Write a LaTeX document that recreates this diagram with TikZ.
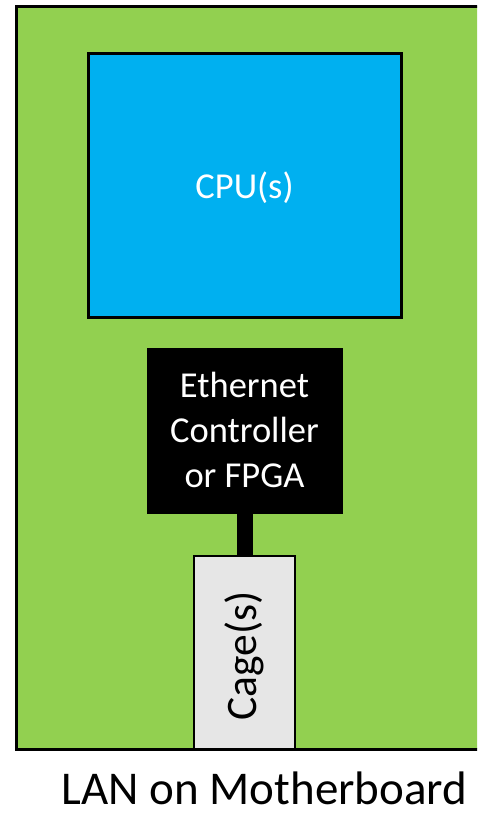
\documentclass[tikz,border=0pt]{standalone}
\usepackage{fontspec}
\setmainfont{Carlito}
\definecolor{board}{HTML}{92D050}
\definecolor{cpublue}{HTML}{00B0F0}
\definecolor{cagegray}{HTML}{E6E6E6}
\begin{document}
\begin{tikzpicture}[x=1pt,y=-1pt,
  box/.style={draw=black,line width=3pt,inner sep=0pt,align=center,text=white},
  txt/.style={font=\fontsize{36.5}{45}\selectfont}]
\useasboundingbox (0,0) rectangle (477,814);
\begin{scope}
\clip (0,0) rectangle (477,814);
\fill[board] (16,6) rectangle (500,749);
\draw[line width=3pt] (500,6) -- (16,6) -- (16,749) -- (500,749);
\end{scope}
\node[box,fill=cpublue,minimum width=313pt,minimum height=264pt] (cpu) at (244.5,185) {};
\node[txt,text=white] (cputxt) at (244.5,188) {CPU(s)};
\node[box,fill=black,minimum width=193pt,minimum height=163pt] (eth) at (244.5,430.5) {};
\node[txt,text=white,align=center] (ethtxt) at (244.5,430) {Ethernet\\Controller\\or FPGA};
\node[box,fill=cagegray,line width=2.5pt,minimum width=101pt,minimum height=193pt] (cage) at (244.5,652.5) {};
\node[font=\fontsize{43.5}{50}\selectfont,rotate=90] (cagetxt) at (244.5,656) {Cage(s)};
\draw[line width=16pt] (eth.south) -- (cage.north);
\node[font=\fontsize{47}{55}\selectfont,anchor=base,inner sep=0pt] (lbl) at (264.5,804) {LAN on Motherboard};
\end{tikzpicture}
\end{document}
